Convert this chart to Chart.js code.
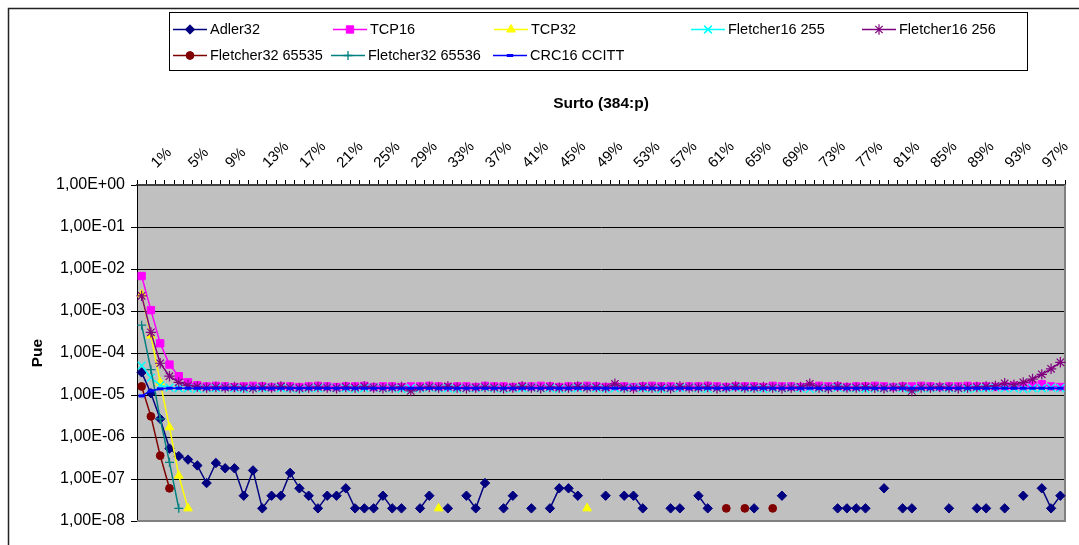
<!DOCTYPE html>
<html><head><meta charset="utf-8">
<script src="https://cdn.jsdelivr.net/npm/chart.js@4.4.1/dist/chart.umd.min.js"></script>
<style>html,body{margin:0;padding:0;background:#fff;}#wrap{width:1079px;height:545px;position:relative;}</style>
</head><body><div id="wrap"><canvas id="c" width="1079" height="545"></canvas></div>
<script>
// ---- data ----
const categories = Array.from({length: 100}, (_, i) => (i + 1) + '%');
const tickLabels = ['1%','5%','9%','13%','17%','21%','25%','29%','33%','37%','41%','45%','49%','53%','57%','61%','65%','69%','73%','77%','81%','85%','89%','93%','97%'];
const yTicks = [1e-8,1e-7,1e-6,1e-5,1e-4,1e-3,1e-2,1e-1,1];
const seriesNames = ['Adler32','TCP16','TCP32','Fletcher16 255','Fletcher16 256','Fletcher32 65535','Fletcher32 65536','CRC16 CCITT'];
const N = null;
const adler32 = [
 3.45e-5,1.1e-5,2.7e-6,5.3e-7,3.5e-7,2.9e-7,2.1e-7,8e-8,2.4e-7,1.8e-7,
 1.8e-7,4e-8,1.6e-7,2e-8,4e-8,4e-8,1.4e-7,6e-8,4e-8,2e-8,
 4e-8,4e-8,6e-8,2e-8,2e-8,2e-8,4e-8,2e-8,2e-8,N,
 2e-8,4e-8,N,2e-8,N,4e-8,2e-8,8e-8,N,2e-8,
 4e-8,N,2e-8,N,2e-8,6e-8,6e-8,4e-8,N,N,
 4e-8,N,4e-8,4e-8,2e-8,N,N,2e-8,2e-8,N,
 4e-8,2e-8,N,N,N,N,2e-8,N,N,4e-8,
 N,N,N,N,N,2e-8,2e-8,2e-8,2e-8,N,
 6e-8,N,2e-8,2e-8,N,N,N,2e-8,N,N,
 2e-8,2e-8,N,2e-8,N,4e-8,N,6e-8,2e-8,4e-8];
const tcp16 = [
 6.8e-3,1.05e-3,1.7e-4,5.3e-5,2.8e-5,2.0e-5,1.7e-5,1.6e-5,1.65e-5,1.6e-5,
 1.55e-5,1.6e-5,1.65e-5,1.6e-5,1.55e-5,1.6e-5,1.6e-5,1.55e-5,1.6e-5,1.65e-5,
 1.6e-5,1.55e-5,1.6e-5,1.6e-5,1.65e-5,1.55e-5,1.6e-5,1.6e-5,1.55e-5,1.6e-5,
 1.6e-5,1.65e-5,1.6e-5,1.55e-5,1.6e-5,1.6e-5,1.55e-5,1.65e-5,1.6e-5,1.6e-5,
 1.55e-5,1.6e-5,1.6e-5,1.65e-5,1.6e-5,1.55e-5,1.6e-5,1.6e-5,1.65e-5,1.6e-5,
 1.55e-5,1.6e-5,1.6e-5,1.55e-5,1.6e-5,1.65e-5,1.6e-5,1.6e-5,1.55e-5,1.6e-5,
 1.6e-5,1.65e-5,1.6e-5,1.55e-5,1.6e-5,1.6e-5,1.6e-5,1.55e-5,1.65e-5,1.6e-5,
 1.6e-5,1.55e-5,1.6e-5,1.65e-5,1.6e-5,1.6e-5,1.55e-5,1.6e-5,1.6e-5,1.65e-5,
 1.6e-5,1.55e-5,1.6e-5,1.6e-5,1.65e-5,1.6e-5,1.55e-5,1.6e-5,1.6e-5,1.65e-5,
 1.6e-5,1.6e-5,1.55e-5,1.6e-5,1.65e-5,1.6e-5,1.7e-5,1.8e-5,1.6e-5,1.55e-5];
const tcp32 = [
 2.5e-3,2.6e-4,2.0e-5,1.7e-6,1.2e-7,2e-8,N,N,N,N,
 N,N,N,N,N,N,N,N,N,N,
 N,N,N,N,N,N,N,N,N,N,
 N,N,2e-8,N,N,N,N,N,N,N,
 N,N,N,N,N,N,N,N,2e-8,N,
 N,N,N,N,N,N,N,N,N,N,
 N,N,N,N,N,N,N,N,N,N,
 N,N,N,N,N,N,N,N,N,N,
 N,N,N,N,N,N,N,N,N,N,
 N,N,N,N,N,N,N,N,N,N];
const fletcher16_255 = [
 5.0e-5,2.6e-5,1.7e-5,1.5e-5,1.45e-5,1.45e-5,1.4e-5,1.45e-5,1.45e-5,1.5e-5,
 1.45e-5,1.4e-5,1.45e-5,1.45e-5,1.5e-5,1.45e-5,1.45e-5,1.4e-5,1.45e-5,1.45e-5,
 1.5e-5,1.45e-5,1.45e-5,1.4e-5,1.45e-5,1.5e-5,1.45e-5,1.45e-5,1.4e-5,1.45e-5,
 1.45e-5,1.5e-5,1.45e-5,1.45e-5,1.4e-5,1.45e-5,1.45e-5,1.5e-5,1.45e-5,1.4e-5,
 1.45e-5,1.45e-5,1.5e-5,1.45e-5,1.45e-5,1.4e-5,1.45e-5,1.45e-5,1.5e-5,1.45e-5,
 1.4e-5,1.45e-5,1.45e-5,1.5e-5,1.45e-5,1.45e-5,1.4e-5,1.45e-5,1.45e-5,1.5e-5,
 1.45e-5,1.4e-5,1.45e-5,1.45e-5,1.5e-5,1.45e-5,1.45e-5,1.4e-5,1.45e-5,1.45e-5,
 1.5e-5,1.45e-5,1.4e-5,1.45e-5,1.45e-5,1.5e-5,1.45e-5,1.45e-5,1.4e-5,1.45e-5,
 1.45e-5,1.5e-5,1.45e-5,1.4e-5,1.45e-5,1.45e-5,1.5e-5,1.45e-5,1.45e-5,1.4e-5,
 1.45e-5,1.45e-5,1.5e-5,1.45e-5,1.45e-5,1.4e-5,1.45e-5,1.45e-5,1.5e-5,1.45e-5];
const fletcher16_256 = [
 2.3e-3,3.1e-4,5.7e-5,2.8e-5,2.0e-5,1.7e-5,1.6e-5,1.5e-5,1.55e-5,1.5e-5,
 1.55e-5,1.5e-5,1.45e-5,1.55e-5,1.5e-5,1.6e-5,1.5e-5,1.45e-5,1.5e-5,1.55e-5,
 1.5e-5,1.45e-5,1.55e-5,1.5e-5,1.6e-5,1.5e-5,1.45e-5,1.5e-5,1.55e-5,1.25e-5,
 1.5e-5,1.55e-5,1.5e-5,1.6e-5,1.5e-5,1.45e-5,1.5e-5,1.55e-5,1.5e-5,1.45e-5,
 1.5e-5,1.6e-5,1.5e-5,1.45e-5,1.55e-5,1.5e-5,1.5e-5,1.6e-5,1.5e-5,1.55e-5,
 1.5e-5,1.85e-5,1.5e-5,1.45e-5,1.55e-5,1.5e-5,1.5e-5,1.45e-5,1.6e-5,1.5e-5,
 1.5e-5,1.55e-5,1.45e-5,1.5e-5,1.6e-5,1.5e-5,1.5e-5,1.55e-5,1.5e-5,1.45e-5,
 1.5e-5,1.55e-5,1.85e-5,1.5e-5,1.45e-5,1.6e-5,1.5e-5,1.5e-5,1.55e-5,1.5e-5,
 1.45e-5,1.5e-5,1.55e-5,1.25e-5,1.5e-5,1.5e-5,1.55e-5,1.5e-5,1.45e-5,1.5e-5,
 1.55e-5,1.6e-5,1.65e-5,1.9e-5,1.75e-5,2.0e-5,2.4e-5,3.1e-5,4.2e-5,6.0e-5];
const fletcher32_65535 = [
 1.6e-5,3.1e-6,3.6e-7,6e-8,N,N,N,N,N,N,
 N,N,N,N,N,N,N,N,N,N,
 N,N,N,N,N,N,N,N,N,N,
 N,N,N,N,N,N,N,N,N,N,
 N,N,N,N,N,N,N,N,N,N,
 N,N,N,N,N,N,N,N,N,N,
 N,N,N,2e-8,N,2e-8,N,N,2e-8,N,
 N,N,N,N,N,N,N,N,N,N,
 N,N,N,N,N,N,N,N,N,N,
 N,N,N,N,N,N,N,N,N,N];
const fletcher32_65536 = [
 4.6e-4,4.0e-5,2.7e-6,2.5e-7,2e-8,N,N,N,N,N,
 N,N,N,N,N,N,N,N,N,N,
 N,N,N,N,N,N,N,N,N,N,
 N,N,N,N,N,N,N,N,N,N,
 N,N,N,N,N,N,N,N,N,N,
 N,N,N,N,N,N,N,N,N,N,
 N,N,N,N,N,N,N,N,N,N,
 N,N,N,N,N,N,N,N,N,N,
 N,N,N,N,N,N,N,N,N,N,
 N,N,N,N,N,N,N,N,N,N];
const crc16_ccitt = [
 9.5e-6,1.25e-5,1.4e-5,1.45e-5,1.45e-5,1.45e-5,1.45e-5,1.45e-5,1.45e-5,1.45e-5,
 1.45e-5,1.45e-5,1.45e-5,1.45e-5,1.45e-5,1.45e-5,1.45e-5,1.45e-5,1.45e-5,1.45e-5,
 1.45e-5,1.45e-5,1.45e-5,1.45e-5,1.45e-5,1.45e-5,1.45e-5,1.45e-5,1.45e-5,1.45e-5,
 1.45e-5,1.45e-5,1.45e-5,1.45e-5,1.45e-5,1.45e-5,1.45e-5,1.45e-5,1.45e-5,1.45e-5,
 1.45e-5,1.45e-5,1.45e-5,1.45e-5,1.45e-5,1.45e-5,1.45e-5,1.45e-5,1.45e-5,1.45e-5,
 1.45e-5,1.45e-5,1.45e-5,1.45e-5,1.45e-5,1.45e-5,1.45e-5,1.45e-5,1.45e-5,1.45e-5,
 1.45e-5,1.45e-5,1.45e-5,1.45e-5,1.45e-5,1.45e-5,1.45e-5,1.45e-5,1.45e-5,1.45e-5,
 1.45e-5,1.45e-5,1.45e-5,1.45e-5,1.45e-5,1.45e-5,1.45e-5,1.45e-5,1.45e-5,1.45e-5,
 1.45e-5,1.45e-5,1.45e-5,1.45e-5,1.45e-5,1.45e-5,1.45e-5,1.45e-5,1.45e-5,1.45e-5,
 1.45e-5,1.45e-5,1.45e-5,1.45e-5,1.45e-5,1.45e-5,1.45e-5,1.45e-5,1.45e-5,1.45e-5];

// ---- styles ----
const FONT = "'Liberation Sans', Arial, sans-serif";
const seriesData = [adler32, tcp16, tcp32, fletcher16_255, fletcher16_256, fletcher32_65535, fletcher32_65536, crc16_ccitt];
const styles = [
  {color:'#000080', point:'rectRot', r:4.7, bw:1},
  {color:'#FF00FF', point:'rect', r:5.2, bw:1},
  {color:'#FFFF00', point:'triangle', r:5, bw:1},
  {color:'#00FFFF', point:'crossRot', r:5.5, bw:1.5},
  {color:'#800080', point:'star', r:5.2, bw:1.2},
  {color:'#800000', point:'circle', r:3.9, bw:1},
  {color:'#008080', point:'cross', r:4.5, bw:1.3},
  {color:'#0000FF', point:'line', r:3.2, bw:3}
];
const legendPos = [[173,29],[333,29],[494,29],[691,29],[862,29],[173,55],[331,55],[493,55]];

const datasets = seriesNames.map((name, i) => ({
  label: name,
  data: seriesData[i],
  borderColor: styles[i].color,
  backgroundColor: styles[i].color,
  borderWidth: 1.5,
  pointStyle: styles[i].point,
  pointRadius: styles[i].r,
  pointBorderWidth: styles[i].bw,
  pointBackgroundColor: styles[i].color,
  pointBorderColor: styles[i].color,
  spanGaps: false,
  tension: 0,
  order: 7 - i
}));

function fmtExp(v) {
  const e = Math.round(Math.log10(v));
  return '1,00E' + (e >= 0 ? '+' : '-') + String(Math.abs(e)).padStart(2, '0');
}

const decor = {
  id: 'decor',
  beforeDraw(chart) {
    const {ctx, chartArea: a} = chart;
    ctx.save();
    ctx.fillStyle = '#fff';
    ctx.fillRect(0, 0, chart.width, chart.height);
    ctx.fillStyle = '#C0C0C0';
    ctx.fillRect(a.left, a.top, a.right - a.left, a.bottom - a.top);
    ctx.restore();
  },
  beforeDatasetsDraw(chart) {
    const {ctx, chartArea: a} = chart;
    ctx.save();
    ctx.strokeStyle = '#808080';
    ctx.lineWidth = 2;
    ctx.beginPath();
    ctx.moveTo(a.left, a.bottom);
    ctx.lineTo(a.right, a.bottom);
    ctx.lineTo(a.right, a.top);
    ctx.stroke();
    ctx.restore();
  },
  afterDraw(chart) {
    const {ctx} = chart;
    ctx.save();
    // outer frame
    ctx.strokeStyle = '#222';
    ctx.lineWidth = 1.5;
    ctx.beginPath();
    ctx.moveTo(8.5, chart.height);
    ctx.lineTo(8.5, 8.5);
    ctx.lineTo(chart.width, 8.5);
    ctx.stroke();
    // legend box
    ctx.strokeStyle = '#000';
    ctx.lineWidth = 1;
    ctx.strokeRect(169.5, 12.5, 858, 58);
    ctx.font = '14.5px ' + FONT;
    ctx.textBaseline = 'middle';
    ctx.textAlign = 'left';
    seriesNames.forEach((name, i) => {
      const [x, y] = legendPos[i];
      const s = styles[i];
      ctx.strokeStyle = s.color;
      ctx.lineWidth = 1.5;
      ctx.beginPath();
      ctx.moveTo(x, y + 0.5);
      ctx.lineTo(x + 34, y + 0.5);
      ctx.stroke();
      ctx.fillStyle = s.color;
      ctx.strokeStyle = s.color;
      ctx.lineWidth = s.bw;
      Chart.helpers.drawPoint(ctx, {pointStyle: s.point, radius: s.r, borderWidth: s.bw, rotation: 0}, x + 17, y + 0.5);
      ctx.fillStyle = '#000';
      ctx.fillText(name, x + 37, y + 1);
    });
    ctx.restore();
  }
};

new Chart(document.getElementById('c'), {
  type: 'line',
  data: {labels: categories, datasets},
  plugins: [decor],
  options: {
    responsive: false,
    animation: false,
    devicePixelRatio: 1,
    layout: {padding: {left: 0, right: 14, top: 0, bottom: 24}},
    plugins: {legend: {display: false}, tooltip: {enabled: false}},
    scales: {
      x: {
        type: 'category',
        position: 'top',
        offset: true,
        afterFit: s => { s.height = 185; },
        grid: {offset: true, drawOnChartArea: false, drawTicks: true, tickLength: 5, color: '#000', lineWidth: 1},
        border: {display: true, color: '#404040', width: 2},
        ticks: {
          autoSkip: false, minRotation: 45, maxRotation: 45, labelOffset: 25, padding: 8,
          color: '#000', font: {family: FONT, size: 15},
          callback: (v, i) => tickLabels.includes(categories[i]) ? categories[i] : ''
        },
        title: {display: true, text: 'Surto (384:p)', color: '#000', font: {family: FONT, size: 15.5, weight: 'bold'}, padding: {top: 94, bottom: 0}}
      },
      y: {
        type: 'logarithmic',
        position: 'left',
        min: 1e-8, max: 1,
        afterFit: s => { s.width = 137; },
        afterBuildTicks: s => { s.ticks = yTicks.map(v => ({value: v})); },
        grid: {color: '#000', lineWidth: 1, tickLength: 6, drawTicks: true},
        border: {display: true, color: '#000', width: 1},
        ticks: {color: '#000', font: {family: FONT, size: 16}, padding: 6, callback: v => fmtExp(v)},
        title: {display: true, text: 'Pue', color: '#000', font: {family: FONT, size: 15.5, weight: 'bold'}, padding: {top: 28, bottom: 0}}
      }
    }
  }
});
</script>
</body></html>
